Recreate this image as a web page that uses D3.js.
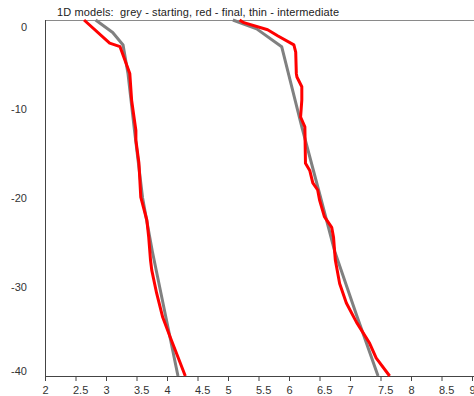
<!DOCTYPE html>
<html>
<head>
<meta charset="utf-8">
<script src="https://cdn.jsdelivr.net/npm/d3@7"></script>
<style>
  html, body { margin: 0; padding: 0; background: #ffffff; }
  svg { display: block; }
  text { font-family: "Liberation Sans", Arial, sans-serif; }
</style>
</head>
<body>
<div id="chart"></div>
<script>
// ---- data ----
const title = "1D models:  grey - starting, red - final, thin - intermediate";

const xTicks = [2, 2.5, 3, 3.5, 4, 4.5, 5, 5.5, 6, 6.5, 7, 7.5, 8, 8.5, 9];
const xTickLabels = ["2", "2.5", "3", "3.5", "4", "4.5", "5", "5.5", "6", "6.5", "7", "7.5", "8", "8.5", "9"];
const yTicks = [0, -10, -20, -30, -40];
const yTickLabels = ["0", "-10", "-20", "-30", "-40"];

// starting model, left profile (grey)
const startLeftDepth = [0, -1.4, -2.8, -6, -12, -20, -26, -33, -40];
const startLeftValue = [2.83, 3.11, 3.28, 3.36, 3.46, 3.60, 3.76, 3.97, 4.18];

// starting model, right profile (grey)
const startRightDepth = [0, -1.0, -3.0, -12, -20, -26, -33, -40];
const startRightValue = [5.08, 5.47, 5.88, 6.21, 6.52, 6.75, 7.10, 7.46];

// final model, left profile (red)
const finalLeftDepth = [0, -2.6, -3.0, -6, -9, -12.4, -13.5, -16.1, -19.9, -22.5, -24.4, -27, -28.1, -30.7, -33.4, -35.6, -40];
const finalLeftValue = [2.64, 3.06, 3.23, 3.39, 3.42, 3.49, 3.49, 3.54, 3.57, 3.67, 3.70, 3.73, 3.75, 3.83, 3.93, 4.05, 4.30];

// final model, right profile (red)
const finalRightDepth = [0, -0.3, -1.1, -1.8, -2.8, -3.6, -6.0, -6.4, -7.5, -9.0, -10.9, -12.0, -16.1, -16.9, -18.3, -19.1, -20.2, -22.1, -23.3, -24.4, -26.2, -27, -29.6, -31.8, -34.0, -36.3, -38.0, -40];
const finalRightValue = [5.19, 5.26, 5.65, 5.82, 6.08, 6.11, 6.12, 6.13, 6.21, 6.21, 6.19, 6.26, 6.27, 6.34, 6.39, 6.47, 6.50, 6.58, 6.70, 6.73, 6.75, 6.76, 6.83, 6.94, 7.11, 7.32, 7.43, 7.65];

// ---- layout ----
const W = 474, H = 396;
const mLeft = 45, mRight = 472, mTop = 20, mBottom = 376;

const svg = d3.select("#chart").append("svg")
  .attr("width", W).attr("height", H);

const x = d3.scaleLinear().domain([2, 9]).range([mLeft, mRight]);
const y = d3.scaleLinear().domain([0, -40]).range([mTop, mBottom]);

// title
svg.append("text")
  .attr("x", 57).attr("y", 16)
  .attr("font-size", 11)
  .attr("fill", "#222")
  .attr("textLength", 282)
  .attr("lengthAdjust", "spacing")
  .style("white-space", "pre")
  .text(title);

// top frame line
svg.append("line")
  .attr("x1", mLeft).attr("x2", W)
  .attr("y1", mTop + 0.5).attr("y2", mTop + 0.5)
  .attr("stroke", "#8a8a8a").attr("stroke-width", 1);

// x axis
const xAxis = d3.axisBottom(x)
  .tickValues(xTicks)
  .tickFormat((d, i) => xTickLabels[i])
  .tickSize(5)
  .tickSizeOuter(0);
const gx = svg.append("g")
  .attr("transform", `translate(0,${mBottom})`)
  .call(xAxis);
gx.select(".domain").attr("stroke", "#444").attr("d", `M${mLeft},0.5H${W}`);
gx.selectAll(".tick line").attr("stroke", "#444");
gx.selectAll(".tick text")
  .attr("font-size", 11)
  .attr("font-family", "Liberation Sans, Arial, sans-serif")
  .attr("fill", "#333")
  .attr("text-anchor", "start")
  .attr("x", -3)
  .attr("y", 18)
  .attr("dy", 0);

// y axis
const yAxis = d3.axisLeft(y)
  .tickValues(yTicks)
  .tickFormat((d, i) => yTickLabels[i])
  .tickSize(0)
  .tickPadding(18);
const gy = svg.append("g")
  .attr("transform", `translate(${mLeft},0)`)
  .call(yAxis);
gy.select(".domain").attr("stroke", "#444").attr("d", `M0.5,${mTop}V${mBottom}`);
gy.selectAll(".tick text")
  .attr("font-size", 11)
  .attr("font-family", "Liberation Sans, Arial, sans-serif")
  .attr("fill", "#333")
  .attr("dy", d => d === 0 ? "0.95em" : (d === -40 ? "-0.1em" : "0.32em"));

// profile lines
const line = d3.line().x(d => x(d[1])).y(d => y(d[0]));
const zip = (a, b) => a.map((v, i) => [v, b[i]]);

const plot = svg.append("g");
const series = [
  { depth: startLeftDepth, value: startLeftValue, color: "#808080" },
  { depth: startRightDepth, value: startRightValue, color: "#808080" },
  { depth: finalLeftDepth, value: finalLeftValue, color: "#ff0000" },
  { depth: finalRightDepth, value: finalRightValue, color: "#ff0000" }
];
series.forEach(s => {
  plot.append("path")
    .datum(zip(s.depth, s.value))
    .attr("d", line)
    .attr("fill", "none")
    .attr("stroke", s.color)
    .attr("stroke-width", 3)
    .attr("stroke-linejoin", "round");
});
</script>
</body>
</html>
